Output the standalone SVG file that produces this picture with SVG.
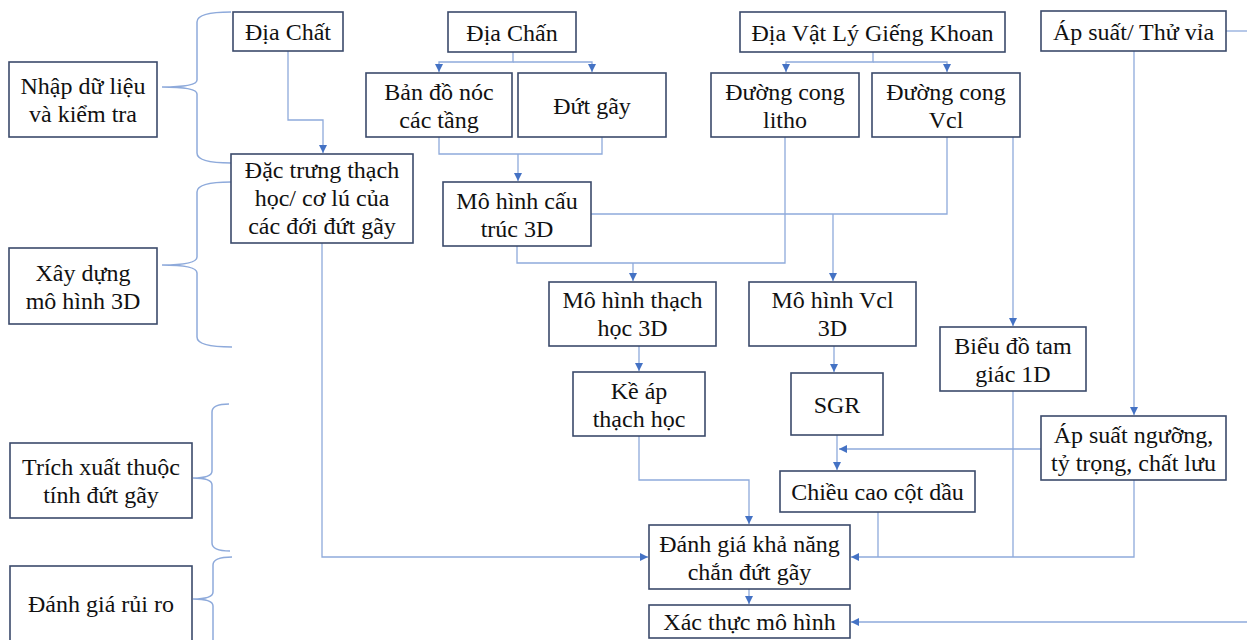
<svg xmlns="http://www.w3.org/2000/svg" width="1247" height="640" viewBox="0 0 1247 640">
<defs>
<style>
.box{fill:#ffffff;stroke:#3b4a6b;stroke-width:1.6}
.t{font-family:"Liberation Serif","Times New Roman",serif;font-size:24px;fill:#111111;text-anchor:middle}
.c{fill:none;stroke:#8eaadb;stroke-width:1.3}
.br{fill:none;stroke:#8eaadb;stroke-width:1.5}
</style>
<marker id="ah" markerUnits="userSpaceOnUse" markerWidth="9" markerHeight="9" refX="8" refY="4" orient="auto">
<path d="M0,0 L8,4 L0,8 z" fill="#4472c4"/>
</marker>
</defs>
<rect width="1247" height="640" fill="#ffffff"/>

<g id="brackets">
<path class="br" d="M231,12 Q197,12 197,22 V80 Q197,87 162,87 Q197,87 197,94 V153 Q197,163 231,163"/>
<path class="br" d="M231,182 Q197,182 197,192 V257 Q197,265 162,265 Q197,265 197,273 V337 Q197,347 232,347"/>
<path class="br" d="M229,404 Q212,404 212,412 V471 Q212,478 193,478 Q212,478 212,485 V543 Q212,551 230,551"/>
<path class="br" d="M232,557 Q213,557 213,565 V592 Q213,599 193,599 Q213,599 213,606 V660"/>
</g>

<g id="connectors">
<path class="c" d="M288,51 V120 H323 V153" marker-end="url(#ah)"/>
<path class="c" d="M513,52 V62 H439 V72" marker-end="url(#ah)"/>
<path class="c" d="M513,62 H592 V72" marker-end="url(#ah)"/>
<path class="c" d="M439,137 V154 H602 V137"/>
<path class="c" d="M518,154 V181" marker-end="url(#ah)"/>
<path class="c" d="M873,52 V62 H786 V72" marker-end="url(#ah)"/>
<path class="c" d="M873,62 H947 V72" marker-end="url(#ah)"/>
<path class="c" d="M947,137 V214 H591"/>
<path class="c" d="M833,214 V281" marker-end="url(#ah)"/>
<path class="c" d="M517,246 V263 H785 V137"/>
<path class="c" d="M633,263 V281" marker-end="url(#ah)"/>
<path class="c" d="M1013,137 V326" marker-end="url(#ah)"/>
<path class="c" d="M1226,31 H1247"/>
<path class="c" d="M1134,51 V415" marker-end="url(#ah)"/>
<path class="c" d="M639,346 V371" marker-end="url(#ah)"/>
<path class="c" d="M834,346 V372" marker-end="url(#ah)"/>
<path class="c" d="M837,435 V470" marker-end="url(#ah)"/>
<path class="c" d="M1041,449 H839" marker-end="url(#ah)"/>
<path class="c" d="M639,436 V480 H749 V524" marker-end="url(#ah)"/>
<path class="c" d="M322,243 V557 H648" marker-end="url(#ah)"/>
<path class="c" d="M1134,480 V557 H851" marker-end="url(#ah)"/>
<path class="c" d="M878,512 V557"/>
<path class="c" d="M1013,391 V557"/>
<path class="c" d="M749,589 V604" marker-end="url(#ah)"/>
<path class="c" d="M1247,622 H851" marker-end="url(#ah)"/>
</g>

<g id="n-nhap"><rect class="box" x="9" y="62" width="148" height="75"/><text class="t" x="83" y="94">Nhập dữ liệu</text><text class="t" x="83" y="122">và kiểm tra</text></g>
<g id="n-xaydung"><rect class="box" x="9" y="248" width="148" height="76"/><text class="t" x="83" y="280.5">Xây dựng</text><text class="t" x="83" y="308.5">mô hình 3D</text></g>
<g id="n-trich"><rect class="box" x="10" y="443" width="182" height="75"/><text class="t" x="101" y="475">Trích xuất thuộc</text><text class="t" x="101" y="503">tính đứt gãy</text></g>
<g id="n-ruiro"><rect class="box" x="10" y="566" width="182" height="80"/><text class="t" x="101" y="612">Đánh giá rủi ro</text></g>

<g id="n-diachat"><rect class="box" x="233" y="12" width="110" height="39"/><text class="t" x="288" y="40">Địa Chất</text></g>
<g id="n-dactrung"><rect class="box" x="231" y="154" width="182" height="89"/><text class="t" x="322" y="178">Đặc trưng thạch</text><text class="t" x="322" y="206">học/ cơ lú của</text><text class="t" x="322" y="234">các đới đứt gãy</text></g>
<g id="n-diachan"><rect class="box" x="448" y="12" width="128" height="40"/><text class="t" x="512" y="40.5">Địa Chấn</text></g>
<g id="n-bando"><rect class="box" x="366" y="73" width="146" height="64"/><text class="t" x="439" y="99.5">Bản đồ nóc</text><text class="t" x="439" y="127.5">các tầng</text></g>
<g id="n-dutgay"><rect class="box" x="518" y="73" width="148" height="64"/><text class="t" x="592" y="113.5">Đứt gãy</text></g>
<g id="n-cautruc"><rect class="box" x="443" y="182" width="148" height="64"/><text class="t" x="517" y="208.5">Mô hình cấu</text><text class="t" x="517" y="236.5">trúc 3D</text></g>
<g id="n-dvlgk"><rect class="box" x="740" y="12" width="265" height="40"/><text class="t" x="872.5" y="40.5">Địa Vật Lý Giếng Khoan</text></g>
<g id="n-litho"><rect class="box" x="711" y="73" width="148" height="64"/><text class="t" x="785" y="99.5">Đường cong</text><text class="t" x="785" y="127.5">litho</text></g>
<g id="n-vcl"><rect class="box" x="872" y="73" width="148" height="64"/><text class="t" x="946" y="99.5">Đường cong</text><text class="t" x="946" y="127.5">Vcl</text></g>
<g id="n-apsuat"><rect class="box" x="1041" y="11" width="185" height="40"/><text class="t" x="1133.5" y="39.5">Áp suất/ Thử vỉa</text></g>
<g id="n-thachhoc3d"><rect class="box" x="549" y="282" width="167" height="64"/><text class="t" x="632.5" y="308">Mô hình thạch</text><text class="t" x="632.5" y="336">học 3D</text></g>
<g id="n-vcl3d"><rect class="box" x="749" y="282" width="167" height="64"/><text class="t" x="832.5" y="308">Mô hình Vcl</text><text class="t" x="832.5" y="336">3D</text></g>
<g id="n-keap"><rect class="box" x="573" y="372" width="132" height="64"/><text class="t" x="639" y="398.5">Kề áp</text><text class="t" x="639" y="426.5">thạch học</text></g>
<g id="n-sgr"><rect class="box" x="791" y="373" width="92" height="62"/><text class="t" x="837" y="413">SGR</text></g>
<g id="n-bieudo"><rect class="box" x="940" y="327" width="146" height="64"/><text class="t" x="1013" y="353.5">Biểu đồ tam</text><text class="t" x="1013" y="381.5">giác 1D</text></g>
<g id="n-apnguong"><rect class="box" x="1041" y="416" width="185" height="64"/><text class="t" x="1133.5" y="442.5">Áp suất ngưỡng,</text><text class="t" x="1133.5" y="470.5">tỷ trọng, chất lưu</text></g>
<g id="n-chieucao"><rect class="box" x="780" y="471" width="195" height="41"/><text class="t" x="877.5" y="500">Chiều cao cột dầu</text></g>
<g id="n-danhgia"><rect class="box" x="649" y="525" width="201" height="64"/><text class="t" x="749.5" y="551.5">Đánh giá khả năng</text><text class="t" x="749.5" y="579.5">chắn đứt gãy</text></g>
<g id="n-xacthuc"><rect class="box" x="649" y="605" width="201" height="33"/><text class="t" x="749.5" y="630">Xác thực mô hình</text></g>
</svg>
